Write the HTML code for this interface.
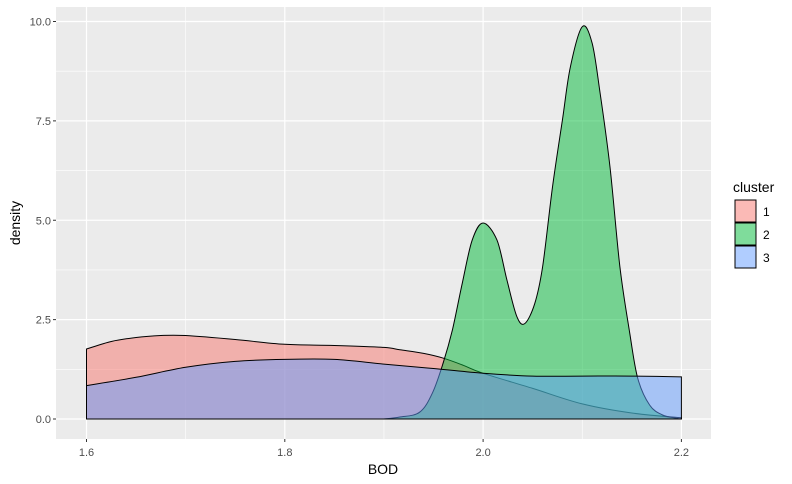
<!DOCTYPE html>
<html><head><meta charset="utf-8"><style>
body{margin:0;background:#fff}
svg{display:block;font-family:"Liberation Sans",Arial,sans-serif}
</style></head><body>
<svg id="chart" width="792" height="484"></svg>
<script>
const seriesNames=["1","2","3"];
const c1x=[1.6,1.625,1.65,1.675,1.7,1.75,1.8,1.85,1.9,1.916,1.94,1.96,1.98,2.0,2.05,2.1,2.15,2.2];
const c1y=[1.76,1.95,2.05,2.1,2.1,2.0,1.88,1.85,1.8,1.74,1.65,1.53,1.35,1.15,0.77,0.38,0.15,0.03];
const c2x=[1.9,1.916,1.936,1.949,1.96,1.969,1.979,1.989,2.0,2.014,2.024,2.034,2.042,2.052,2.06,2.07,2.08,2.088,2.1,2.11,2.118,2.128,2.138,2.148,2.156,2.168,2.181,2.195,2.2];
const c2y=[0,0.05,0.17,0.66,1.43,2.24,3.42,4.5,4.93,4.5,3.5,2.58,2.4,2.9,3.83,5.84,7.52,8.86,9.87,9.45,8.2,6.34,3.83,2.15,1.02,0.35,0.1,0.02,0];
const c3x=[1.6,1.65,1.7,1.75,1.8,1.85,1.9,1.95,2.0,2.05,2.1,2.15,2.2];
const c3y=[0.84,1.05,1.3,1.45,1.5,1.5,1.38,1.27,1.15,1.08,1.08,1.08,1.06];
const xTicks=[1.6,1.8,2.0,2.2];
const xTickLabels=["1.6","1.8","2.0","2.2"];
const yTicks=[0,2.5,5,7.5,10];
const yTickLabels=["0.0","2.5","5.0","7.5","10.0"];
const colors=["#F8766D","#00BA38","#619CFF"];

const NS="http://www.w3.org/2000/svg";
const svg=document.getElementById('chart');
const P={l:56,r:711,t:7,b:439};
const X=v=>86.5+(v-1.6)*991.5;
const Y=v=>419-v*39.75;
function mk(t,a,p){const e=document.createElementNS(NS,t);for(const k in a)e.setAttribute(k,a[k]);(p||svg).appendChild(e);return e;}
const panel=mk('rect',{x:P.l,y:P.t,width:P.r-P.l,height:P.b-P.t,fill:'#EBEBEB'});


[1.7,1.9,2.1].forEach(v=>{const l=mk('line',{x1:X(v),x2:X(v),y1:P.t,y2:P.b,stroke:'#fff','stroke-width':0.6});});
[1.25,3.75,6.25,8.75].forEach(v=>{const l=mk('line',{x1:P.l,x2:P.r,y1:Y(v),y2:Y(v),stroke:'#fff','stroke-width':0.6});});
xTicks.forEach((v,i)=>{
 const l=mk('line',{x1:X(v),x2:X(v),y1:P.t,y2:P.b,stroke:'#fff','stroke-width':1.2});
 const tk=mk('line',{x1:X(v),x2:X(v),y1:P.b,y2:P.b+3,stroke:'#333'});
 const t=mk('text',{x:X(v),y:P.b+17,'text-anchor':'middle','font-size':11,fill:'#4D4D4D'});t.textContent=xTickLabels[i];
});
yTicks.forEach((v,i)=>{
 const l=mk('line',{x1:P.l,x2:P.r,y1:Y(v),y2:Y(v),stroke:'#fff','stroke-width':1.2});
 const tk=mk('line',{x1:P.l-3,x2:P.l,y1:Y(v),y2:Y(v),stroke:'#333'});
 const t=mk('text',{x:P.l-5,y:Y(v)+4,'text-anchor':'end','font-size':11,fill:'#4D4D4D'});t.textContent=yTickLabels[i];
});
function smoothPath(pts){
 let d='';
 for(let i=0;i<pts.length-1;i++){
  const p0=pts[Math.max(0,i-1)],p1=pts[i],p2=pts[i+1],p3=pts[Math.min(pts.length-1,i+2)];
  const c1=[p1[0]+(p2[0]-p0[0])/6,p1[1]+(p2[1]-p0[1])/6];
  const c2=[p2[0]-(p3[0]-p1[0])/6,p2[1]-(p3[1]-p1[1])/6];
  d+=' C'+c1[0].toFixed(1)+','+c1[1].toFixed(1)+' '+c2[0].toFixed(1)+','+c2[1].toFixed(1)+' '+p2[0].toFixed(1)+','+p2[1].toFixed(1);
 }
 return d;
}
[[c1x,c1y],[c2x,c2y],[c3x,c3y]].forEach((s,k)=>{
 const xs=s[0],ys=s[1];
 const pts=xs.map((x,i)=>[X(x),Y(ys[i])]);
 let d='M'+X(xs[0])+','+Y(0)+' L'+pts[0][0].toFixed(1)+','+pts[0][1].toFixed(1);
 d+=smoothPath(pts);
 d+=' L'+X(xs[xs.length-1])+','+Y(0)+' Z';
 const p=mk('path',{d:d,fill:colors[k],'fill-opacity':0.5,stroke:'#000','stroke-width':1});
 
 
});
const xt=mk('text',{x:383,y:474,'text-anchor':'middle','font-size':14,fill:'#000'});xt.textContent='BOD';


const yt=mk('text',{x:0,y:0,transform:'translate(20,223) rotate(-90)','text-anchor':'middle','font-size':14,fill:'#000'});yt.textContent='density';


const lt=mk('text',{x:733,y:192,'font-size':14,fill:'#000'});lt.textContent='cluster';


seriesNames.forEach((n,k)=>{
 const y=200+k*23;
 const r=mk('rect',{x:735,y:y,width:21,height:22,fill:colors[k],'fill-opacity':0.5,stroke:'#000','stroke-width':1});
 
 
 const t=mk('text',{x:763,y:y+16,'font-size':12,fill:'#000'});t.textContent=n;
 
 
});
</script>
</body></html>
